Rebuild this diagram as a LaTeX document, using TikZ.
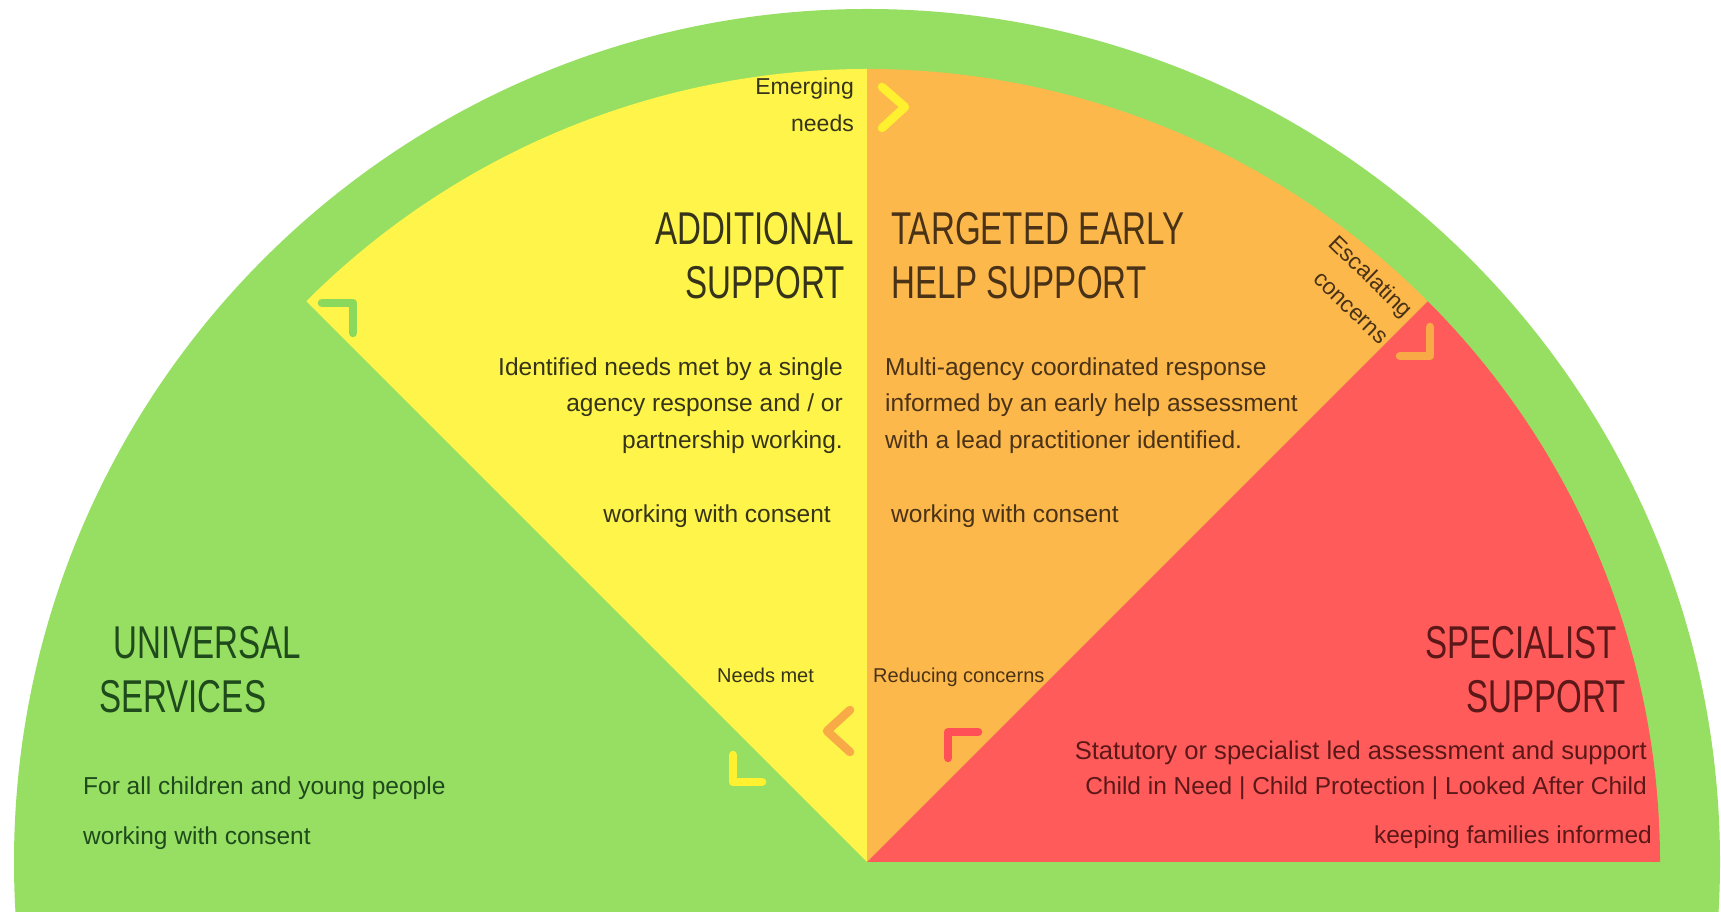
\documentclass[tikz,border=0pt]{standalone}
\usepackage{fontspec}
\setmainfont{Liberation Sans}
\newfontfamily\titlefont{Liberation Sans}[FakeStretch=0.72]
\newfontfamily\bodyfont{Liberation Sans}
\definecolor{cgreen}{HTML}{96DF63}
\definecolor{cyellow}{HTML}{FFF44A}
\definecolor{corange}{HTML}{FCB84B}
\definecolor{cred}{HTML}{FF5B5A}
\definecolor{chgreen}{HTML}{8AD95C}
\definecolor{chyellow}{HTML}{FFF030}
\definecolor{chorange}{HTML}{F8AA47}
\definecolor{chred}{HTML}{FF5058}
\definecolor{tgreen}{HTML}{1F4A1C}
\definecolor{tyellow}{HTML}{35341A}
\definecolor{torange}{HTML}{4A3217}
\definecolor{tred}{HTML}{5C1818}
\tikzset{
  titletext/.style={font=\titlefont\fontsize{46}{52}\selectfont, inner sep=0pt},
  bodytext/.style={font=\bodyfont\fontsize{24.5}{30}\selectfont, inner sep=0pt},
  smalltext/.style={font=\bodyfont\fontsize{20}{24}\selectfont, inner sep=0pt},
  midtext/.style={font=\bodyfont\fontsize{23}{28}\selectfont, inner sep=0pt},
  chevron/.style={line width=8.5pt, line cap=round, line join=round},
}
\begin{document}
\begin{tikzpicture}[x=1pt,y=1pt]
\useasboundingbox (0,0) rectangle (1721,915);
\fill[white] (0,0) rectangle (1721,915);
\coordinate (apex) at (867,53);
% outer green disc
\begin{scope}
  \clip (0,3) rectangle (1721,915);
  \fill[cgreen] (apex) circle[radius=853pt];
\end{scope}
% sectors
\fill[cyellow] (apex) -- ++(135:793pt) arc[start angle=135, end angle=90, radius=793pt] -- cycle;
\fill[corange] (apex) -- ++(90:793pt) arc[start angle=90, end angle=45, radius=793pt] -- cycle;
\fill[cred] (apex) -- ++(45:793pt) arc[start angle=45, end angle=0, radius=793pt] -- cycle;
% chevrons
\draw[chevron, chgreen] (322,612) -- (353,612) -- (353,582);
\draw[chevron, chyellow] (882,828) -- (905,808) -- (882,787);
\draw[chevron, chorange] (1400,559) -- (1430,559) -- (1430,588);
\draw[chevron, chred] (978,183) -- (948,183) -- (948,157);
\draw[chevron, chorange] (850,205) -- (827,184) -- (850,163);
\draw[chevron, chyellow] (733,160) -- (733,133) -- (762,133);
% yellow sector texts
\node[midtext, text=tyellow, anchor=base east] (em1) at (854,820) {Emerging};
\node[midtext, text=tyellow, anchor=base east] (em2) at (854,783) {needs};
\node[titletext, text=tyellow, anchor=base east] (add1) at (854,670) {ADDITIONAL};
\node[titletext, text=tyellow, anchor=base east] (add2) at (845,616) {SUPPORT};
\node[bodytext, text=tyellow, anchor=base east] (ay1) at (843,539) {Identified needs met by a single};
\node[bodytext, text=tyellow, anchor=base east] (ay2) at (843,503) {agency response and / or};
\node[bodytext, text=tyellow, anchor=base east] (ay3) at (843,466) {partnership working.};
\node[bodytext, text=tyellow, anchor=base east] (ay4) at (831,392) {working with consent};
\node[smalltext, text=tyellow, anchor=base west] (nm) at (717,232) {Needs met};
% orange sector texts
\node[titletext, text=torange, anchor=base west] (tg1) at (891,670) {TARGETED EARLY};
\node[titletext, text=torange, anchor=base west] (tg2) at (891,616) {HELP SUPPORT};
\node[bodytext, text=torange, anchor=base west] (ot1) at (885,539) {Multi-agency coordinated response};
\node[bodytext, text=torange, anchor=base west] (ot2) at (885,503) {informed by an early help assessment};
\node[bodytext, text=torange, anchor=base west] (ot3) at (885,466) {with a lead practitioner identified.};
\node[bodytext, text=torange, anchor=base west] (ot4) at (891,392) {working with consent};
\node[smalltext, text=torange, anchor=base west] (rc) at (873,232) {Reducing concerns};
\node[font=\bodyfont\fontsize{23}{36}\selectfont, inner sep=0pt, text=torange, rotate=-44, align=center] (esc) at (1359,626) {Escalating\\\hspace*{14pt}concerns};
% green texts
\node[titletext, text=tgreen, anchor=base west] (un1) at (113,256) {UNIVERSAL};
\node[titletext, text=tgreen, anchor=base west] (un2) at (99,202) {SERVICES};
\node[bodytext, text=tgreen, anchor=base west] (ug1) at (83,120) {For all children and young people};
\node[bodytext, text=tgreen, anchor=base west] (ug2) at (83,70) {working with consent};
% red texts
\node[titletext, text=tred, anchor=base east] (sp1) at (1617,256) {SPECIALIST};
\node[titletext, text=tred, anchor=base east] (sp2) at (1626,202) {SUPPORT};
\node[bodytext, text=tred, anchor=base east, font=\bodyfont\fontsize{25.6}{30}\selectfont] (rt1) at (1647,155) {Statutory or specialist led assessment and support};
\node[bodytext, text=tred, anchor=base east] (rt2) at (1647,120) {Child in Need | Child Protection | Looked After Child};
\node[bodytext, text=tred, anchor=base east] (rt3) at (1652,71) {keeping families informed};
\end{tikzpicture}
\end{document}
